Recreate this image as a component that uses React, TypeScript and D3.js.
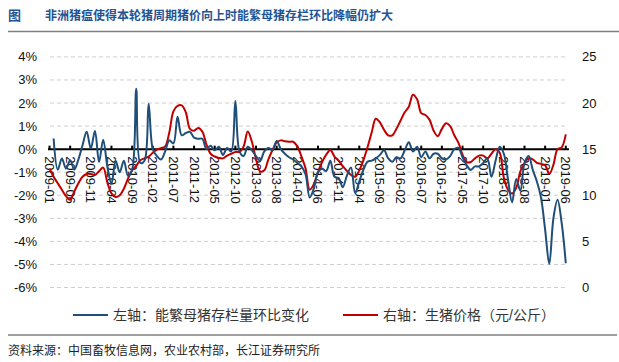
import React from 'react';
import * as d3 from 'd3';

// 2009-01 ... 2019-06, monthly
const months = d3.timeMonths(new Date(2009, 0, 1), new Date(2019, 6, 1)).map(d3.timeFormat('%Y-%m'));

const tickLabels = [
  '2009-01', '2009-06', '2009-11', '2010-04', '2010-09', '2011-02', '2011-07', '2011-12',
  '2012-05', '2012-10', '2013-03', '2013-08', '2014-01', '2014-06', '2014-11', '2015-04',
  '2015-09', '2016-02', '2016-07', '2016-12', '2017-05', '2017-10', '2018-03', '2018-08',
  '2019-01', '2019-06',
];

// left axis: 能繁母猪存栏量环比变化 (%)
const sowChange: (number | null)[] = [
  null, 0.46, -0.89, -0.41, -0.84, -0.48, -0.89, -0.45, 0.17, 0.75,
  0.03, 0.79, -0.55, 0.41, -0.75, -1.5, -0.5, -1.0, -0.5, -1.15,
  -0.9, 2.62, -0.6, -0.5, 1.97, 0.0, -0.3, -0.45, -0.1, 0.38,
  0.25, 1.4, 0.6, 0.7, 0.75, 0.5, 0.45, 0.45, 0.0, 0.15,
  -0.05, 0.1, -0.25, 0.05, -0.1, 2.09, -0.1, -0.3, 0.1, -0.05,
  -0.3, -0.5, -0.1, 0.05, -0.05, 0.35, 0.0, -0.2, -0.35, -0.45,
  -0.6, -0.75, -1.1, -2.1, -1.7, -1.0, -0.85, -0.95, -0.5, -1.2,
  -1.25, -1.65, -1.15, -0.8, -1.9, -1.4, -0.9, -0.55, -0.5, -0.4,
  -0.25, -0.05, -0.4, -0.55, -0.35, -0.4, -0.05, 0.3, -0.1, 0.1,
  -0.35, -0.1, -0.4, -0.2, -0.2, -0.4, -0.45, -0.3, 0.0, 0.05,
  -0.35, -0.7, -0.9, -0.75, -0.75, -0.6, -0.4, -1.2, -0.5, 0.1,
  -0.2, -1.3, -2.3, -1.3, -1.8, -0.6, -0.3, -0.9, -1.4, -2.1,
  -3.5, -4.98, -3.0, -2.2, -3.2, -4.95,
];

// right axis: 生猪价格 (元/公斤)
const hogPrice: number[] = [
  12.9, 12.0, 11.3, 10.6, 9.9, 9.5, 10.4, 11.3, 12.0, 12.3,
  12.3, 12.2, 12.6, 13.0, 11.4, 10.2, 9.8, 10.0, 10.7, 11.8,
  12.7, 13.2, 13.8, 14.0, 14.2, 14.6, 14.95, 15.1, 15.3, 16.8,
  19.1, 19.7, 19.75, 19.0, 17.2, 17.0, 17.3, 16.9, 15.5, 14.5,
  14.2, 14.05, 14.0, 14.3, 14.5, 14.7, 14.7, 15.3, 16.9, 15.8,
  13.9, 12.6, 12.7, 13.9, 14.9, 15.75, 15.95, 15.85, 15.8, 15.8,
  15.3, 14.2, 12.9, 10.6, 11.2, 12.5, 13.6, 14.4, 14.9, 14.2,
  13.75, 13.15, 12.65, 12.2, 12.0, 12.7, 13.8, 15.2, 16.8, 18.3,
  17.9, 17.1, 16.5, 16.5, 17.2, 18.1, 19.0, 19.6, 20.9, 20.4,
  18.9, 18.7, 18.2, 17.0, 16.4, 17.2, 17.8, 17.5, 16.5, 15.7,
  14.4, 13.6, 13.6, 14.0, 14.3, 14.3, 14.0, 14.5, 15.0, 14.6,
  11.9, 10.6, 10.2, 10.8, 12.6, 13.5, 14.0, 13.9, 13.5, 13.4,
  13.25, 12.3, 13.3, 15.0, 15.2, 16.6,
];

const leftTicks = [4, 3, 2, 1, 0, -1, -2, -3, -4, -5, -6];
const rightTicks = [25, 20, 15, 10, 5, 0];

const W = 619;
const H = 362;
const FONT = '"Liberation Sans", Arial, "Noto Sans CJK SC", sans-serif';
const BLUE = '#1f4e79';
const RED = '#c00000';

export default function App() {
  const x = d3.scalePoint<string>().domain(months).range([49.5, 565.8]);
  const yL = d3.scaleLinear().domain([-6, 4]).range([287.5, 56.9]);
  const yR = d3.scaleLinear().domain([0, 25]).range([287.5, 56.9]);
  const y0 = yL(0);

  const blueLine = d3.line<number | null>()
    .defined(d => d != null)
    .x((_, i) => x(months[i])!)
    .y(d => yL(d as number))
    .curve(d3.curveCatmullRom.alpha(0.5));

  const redLine = d3.line<number>()
    .x((_, i) => x(months[i])!)
    .y(d => yR(d))
    .curve(d3.curveCatmullRom.alpha(0.5));

  return (
    <svg width={W} height={H} style={{ position: 'absolute', left: 0, top: 0, background: '#fff' }} fontFamily={FONT}>
      {/* title */}
      <text x={8} y={20} fontSize={13} fill="#1f5496" fontWeight="bold">图</text>
      <text x={45} y={20} fontSize={12} fill="#1f5496" fontWeight="bold">非洲猪瘟使得本轮猪周期猪价向上时能繁母猪存栏环比降幅仍扩大</text>
      <line x1={8} x2={619} y1={31.5} y2={31.5} stroke="#7f7f7f" strokeWidth={1.5} />

      {/* grid */}
      {leftTicks.filter(t => t !== 0).map(t => (
        <line key={t} x1={50} x2={567} y1={yL(t)} y2={yL(t)} stroke="#cfcfcf" strokeWidth={1} strokeDasharray="4,3" />
      ))}

      {/* left axis labels */}
      {leftTicks.map(t => (
        <text key={t} x={37} y={yL(t)} textAnchor="end" dominantBaseline="central" fontSize={13} fill="#111">{`${t}%`}</text>
      ))}
      {/* right axis labels */}
      {rightTicks.map(t => (
        <text key={t} x={582} y={yR(t)} dominantBaseline="central" fontSize={13} fill="#111">{t}</text>
      ))}

      {/* category axis at 0% */}
      <line x1={48} x2={569} y1={y0} y2={y0} stroke="#000" strokeWidth={2} />
      {tickLabels.map(l => (
        <g key={l}>
          <line x1={x(l)!} x2={x(l)!} y1={y0 - 3.5} y2={y0} stroke="#000" strokeWidth={2} />
          <text transform={`translate(${x(l)},${y0 + 7}) rotate(90)`} dominantBaseline="central" fontSize={13} fill="#111">{l}</text>
        </g>
      ))}

      {/* series */}
      <path d={redLine(hogPrice) || ''} fill="none" stroke={RED} strokeWidth={2} />
      <path d={blueLine(sowChange) || ''} fill="none" stroke={BLUE} strokeWidth={2} />

      {/* legend */}
      <line x1={73} x2={108} y1={315} y2={315} stroke={BLUE} strokeWidth={2} />
      <text x={113} y={315} dominantBaseline="central" fontSize={14} fill="#333">左轴：能繁母猪存栏量环比变化</text>
      <line x1={343} x2={378} y1={315} y2={315} stroke={RED} strokeWidth={2} />
      <text x={383} y={315} dominantBaseline="central" fontSize={14} fill="#333">右轴：生猪价格（元/公斤）</text>

      {/* footer */}
      <line x1={8} x2={617} y1={335} y2={335} stroke="#7f7f7f" strokeWidth={1.5} />
      <text x={8} y={355} fontSize={12} fill="#222">资料来源：中国畜牧信息网，农业农村部，长江证券研究所</text>
    </svg>
  );
}
